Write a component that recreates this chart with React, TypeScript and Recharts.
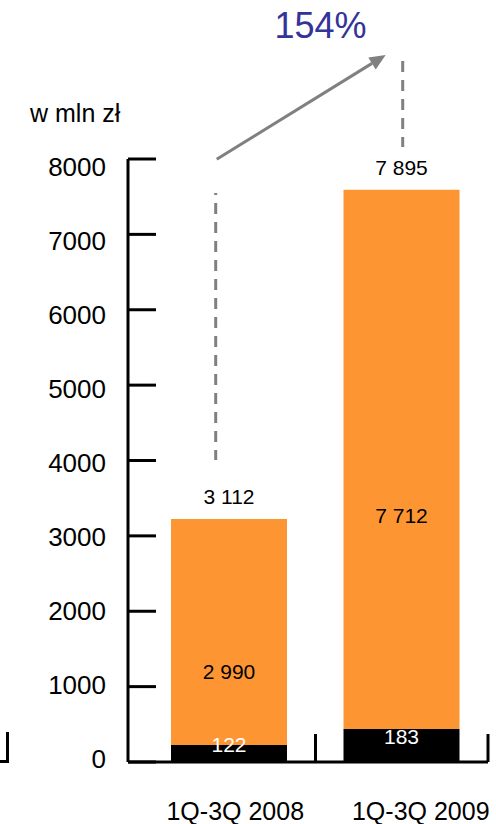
import React from 'react';
import { BarChart, Bar, XAxis, YAxis, LabelList } from 'recharts';

// values in mln zł (segment heights as drawn)
const categories = ['1Q-3Q 2008', '1Q-3Q 2009'];
const baseSegment = [226, 438];
const mainSegment = [2999, 7154];
const baseLabels = ['122', '183'];
const mainLabels = ['2 990', '7 712'];
const totalLabels = ['3 112', '7 895'];
const yTicks = [0, 1000, 2000, 3000, 4000, 5000, 6000, 7000, 8000];
const growthLabel = '154%';
const unitLabel = 'w mln zł';

const FONT = '"Liberation Sans", Arial, sans-serif';
const ORANGE = '#FD9632';
const GREY = '#808080';

const rows = categories.map((name, i) => ({
  name,
  base: baseSegment[i],
  main: mainSegment[i],
  baseLabel: baseLabels[i],
  mainLabel: mainLabels[i],
  totalLabel: totalLabels[i],
}));

// small per-category nudges so texts sit where the original put them
const xLabelDx = [6, 19];
const mainLabelDy = [39, 56];

const YTick = (props: any) => {
  const { x, y, payload } = props;
  const v = Number(payload.value);
  const dy = -3 + 11 * (v / 8000);
  return (
    <g>
      <line x1={x} x2={x + 28} y1={y} y2={y} stroke="#000" strokeWidth={3} />
      <text
        x={x - 22}
        y={y + dy}
        dy="0.36em"
        textAnchor="end"
        fontFamily={FONT}
        fontSize={26}
        fill="#000"
      >
        {payload.value}
      </text>
    </g>
  );
};

const XTick = (props: any) => {
  const { x, y, payload, index } = props;
  const off = payload.offset ?? 86.25;
  return (
    <g>
      <line x1={x + off} x2={x + off} y1={y - 28} y2={y} stroke="#000" strokeWidth={3} />
      <text
        x={x + (xLabelDx[index] ?? 0)}
        y={y + 58}
        textAnchor="middle"
        fontFamily={FONT}
        fontSize={25}
        fill="#000"
      >
        {payload.value}
      </text>
    </g>
  );
};

const renderBaseLabel = (props: any) => {
  const { x, y, width, height, value } = props;
  return (
    <text
      x={x + width / 2}
      y={y + height / 2 - 9}
      dy="0.36em"
      textAnchor="middle"
      fontFamily={FONT}
      fontSize={21}
      fill="#fff"
    >
      {value}
    </text>
  );
};

const renderMainLabel = (props: any) => {
  const { x, y, width, height, value, index } = props;
  return (
    <text
      x={x + width / 2}
      y={y + height / 2 + (mainLabelDy[index] ?? 45)}
      dy="0.36em"
      textAnchor="middle"
      fontFamily={FONT}
      fontSize={21}
      fill="#000"
    >
      {value}
    </text>
  );
};

const renderTotalLabel = (props: any) => {
  const { x, y, width, value } = props;
  return (
    <text
      x={x + width / 2}
      y={y - 22}
      dy="0.36em"
      textAnchor="middle"
      fontFamily={FONT}
      fontSize={21}
      fill="#000"
    >
      {value}
    </text>
  );
};

export default function App() {
  return (
    <div
      style={{
        position: 'absolute',
        left: 0,
        top: 0,
        width: 496,
        height: 824,
        background: '#fff',
      }}
    >
      <BarChart
        width={496}
        height={824}
        data={rows}
        margin={{ top: 159, right: 8, bottom: 0, left: 0 }}
      >
        <XAxis
          dataKey="name"
          height={62}
          padding={{ left: 15, right: 0 }}
          axisLine={{ stroke: '#000', strokeWidth: 3 }}
          tickLine={false}
          tickSize={0}
          tickMargin={0}
          interval={0}
          tick={<XTick />}
        />
        <YAxis
          type="number"
          width={128}
          domain={[0, 8000]}
          ticks={yTicks}
          interval={0}
          axisLine={{ stroke: '#000', strokeWidth: 3 }}
          tickLine={false}
          tickSize={0}
          tickMargin={0}
          tick={<YTick />}
        />
        <Bar dataKey="base" stackId="a" fill="#000" barSize={116} isAnimationActive={false}>
          <LabelList dataKey="baseLabel" content={renderBaseLabel} />
        </Bar>
        <Bar dataKey="main" stackId="a" fill={ORANGE} barSize={116} isAnimationActive={false}>
          <LabelList dataKey="mainLabel" content={renderMainLabel} />
          <LabelList dataKey="totalLabel" content={renderTotalLabel} />
        </Bar>
      </BarChart>

      {/* annotations: unit, growth arrow, dashed guides */}
      <svg
        width={496}
        height={824}
        style={{ position: 'absolute', left: 0, top: 0, pointerEvents: 'none' }}
      >
        <text x={30} y={122} fontFamily={FONT} fontSize={25} fill="#000">
          {unitLabel}
        </text>
        <text x={320.5} y={38} textAnchor="middle" fontFamily={FONT} fontSize={36} fill="#333399">
          {growthLabel}
        </text>
        <line x1={216.7} y1={159.3} x2={372} y2={63.4} stroke={GREY} strokeWidth={3} />
        <polygon points="385.7,55 368.3,57.4 375.7,69.4" fill={GREY} />
        <line
          x1={215.7}
          x2={215.7}
          y1={193}
          y2={460}
          stroke={GREY}
          strokeWidth={3}
          strokeDasharray="11 8"
          strokeDashoffset={9}
        />
        <line
          x1={402.7}
          x2={402.7}
          y1={61}
          y2={147}
          stroke={GREY}
          strokeWidth={3}
          strokeDasharray="11 8"
        />
        <line x1={7.5} x2={7.5} y1={732} y2={763} stroke="#000" strokeWidth={3} />
        <line x1={0} x2={9} y1={761.5} y2={761.5} stroke="#000" strokeWidth={3} />
      </svg>
    </div>
  );
}
